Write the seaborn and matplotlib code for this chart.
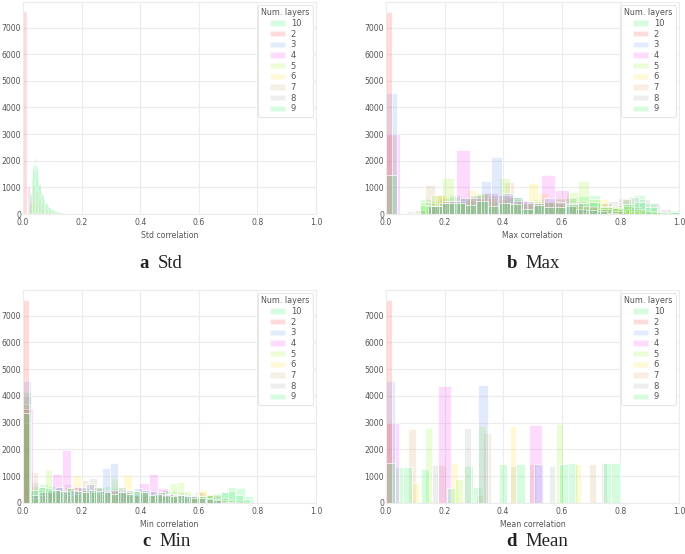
import numpy as np
import pandas as pd
import matplotlib
matplotlib.use("Agg")
import matplotlib.pyplot as plt
from matplotlib.patches import Patch
import seaborn as sns


# Histograms of the correlation between layers, one colour per number of layers.
# Every layer keeps its own bin width; counts are listed bin by bin starting at 0.

layers = ["10", "2", "3", "4", "5", "6", "7", "8", "9"]
colours = ["#00ee44", "#ff1f1f", "#4f86ee", "#ee1fee", "#88ee00",
           "#ffdc00", "#cc9555", "#9a9a9a", "#00ee44"]

# Std correlation
std_width = [0.005, 0.015, 0.004, 0.008, 0.005, 0.004, 0.005, 0.005, 0.005]
std_counts = [
    [1500, 0, 0, 0, 250, 700, 1250, 1650, 1750, 1600, 1350, 1100, 880, 700, 560, 450, 360, 290,
     230, 185, 150, 120, 95, 75, 60, 48, 38, 30, 24, 18, 14, 10, 7, 5, 3],
    [7600],
    [4650],
    [0, 0, 1000, 400],
    [0, 0, 0, 0, 150, 300, 420, 460, 430, 360, 290, 230, 180, 140, 110, 90, 70, 55,
     45, 35, 28, 22, 17, 13, 10, 8, 6, 4, 3, 2, 1],
    [3000],
    [0, 0, 0, 0, 250, 600, 900, 1050, 1000, 880, 720, 580, 460, 370, 300, 240, 190, 150,
     120, 95, 75, 60, 48, 38, 30, 24, 18, 14, 10, 7, 5, 3, 2],
    [0, 0, 0, 0, 100, 250, 400, 480, 500, 450, 380, 310, 250, 200, 160, 130, 100, 80,
     64, 50, 40, 32, 25, 19, 14, 10, 7, 5, 3, 2],
    [0, 0, 0, 0, 300, 800, 1400, 1800, 2100, 1800, 1400, 1080, 840, 660, 520, 410, 330, 265,
     210, 170, 135, 108, 86, 68, 54, 43, 34, 27, 21, 16, 12, 9, 6, 4, 2],
]

# Max correlation
max_width = [0.0385, 0.02, 0.036, 0.048, 0.0385, 0.0345, 0.0335, 0.036, 0.0385]
max_counts = [
    [1480, 0, 30, 350, 300, 420, 400, 350, 480, 300, 420, 380, 200, 350, 280, 250, 380, 420,
     450, 250, 230, 380, 450, 280, 60, 90],
    [7600],
    [4550, 0, 0, 0, 300, 400, 500, 600, 700, 1240, 2150, 800, 650, 500, 400, 600, 450, 300,
     200, 150, 100, 50],
    [3000, 0, 0, 300, 500, 2400, 600, 800, 700, 500, 400, 1480, 920, 400, 300, 200, 100],
    [0, 0, 0, 450, 700, 1335, 500, 600, 800, 700, 1335, 650, 400, 500, 450, 600, 830, 1235,
     550, 300, 250, 300, 200, 100],
    [2950, 0, 0, 0, 300, 700, 400, 500, 900, 750, 600, 550, 400, 500, 1170, 800, 500, 400,
     350, 300, 250, 550, 300, 200, 100],
    [0, 0, 0, 150, 1085, 700, 500, 400, 600, 750, 800, 500, 1210, 500, 400, 500, 450, 400,
     350, 300, 250, 250, 400, 350, 550, 250, 150, 80, 30],
    [0, 0, 100, 150, 400, 600, 700, 650, 500, 600, 700, 650, 550, 500, 450, 500, 550, 600,
     500, 450, 400, 500, 600, 650, 550, 400, 200, 100],
    [0, 20, 50, 560, 480, 650, 620, 480, 750, 450, 600, 620, 300, 570, 430, 380, 600, 680,
     730, 380, 350, 600, 720, 420, 100, 150],
]

# Min correlation
min_width = [0.025, 0.0216, 0.027, 0.033, 0.025, 0.0285, 0.025, 0.028, 0.028]
min_counts = [
    [3375, 500, 600, 550, 500, 450, 550, 450, 400, 500, 450, 400, 350, 400, 350, 450, 400, 300,
     350, 300, 250, 300, 250, 200, 250, 300, 350, 400, 450, 300, 150],
    [7600],
    [4575, 300, 400, 500, 600, 450, 500, 600, 700, 600, 1300, 1490, 600, 500, 550, 500, 450,
     400, 350, 300, 300, 250, 200, 150, 100, 50],
    [3500, 300, 400, 1090, 1990, 600, 500, 400, 450, 500, 400, 350, 750, 1090, 560, 350, 300,
     250, 200, 150, 100, 50],
    [3710, 300, 400, 1220, 500, 400, 300, 350, 400, 500, 600, 500, 950, 500, 400, 300, 400,
     350, 450, 500, 750, 800, 450, 300, 250, 200, 150, 100, 50],
    [3500, 200, 300, 400, 500, 600, 1050, 500, 400, 350, 450, 600, 1040, 500, 400, 300, 350,
     250, 300, 200, 300, 490, 350, 200, 100, 50],
    [3000, 1150, 500, 400, 450, 500, 550, 600, 850, 700, 550, 500, 450, 400, 350, 300, 350,
     400, 300, 250, 350, 300, 250, 200, 400, 350, 300, 200, 100],
    [4010, 800, 600, 500, 600, 700, 650, 550, 950, 600, 500, 450, 400, 350, 400, 350, 300,
     250, 300, 400, 350, 400, 300, 250, 200, 150, 100],
    [4150, 650, 700, 650, 550, 600, 500, 550, 450, 500, 650, 550, 450, 400, 500, 450, 350, 500,
     450, 300, 350, 250, 300, 350, 400, 580, 550, 250],
]

# Mean correlation
mean_width = [0.0296, 0.02, 0.0315, 0.0445, 0.0263, 0.0222, 0.0256, 0.0222, 0.0296]
mean_counts = [
    [1480, 0, 1360, 0, 1280, 0, 0, 570, 0, 0, 0, 0, 0, 1450, 0, 0, 0, 0, 0, 0, 1450, 0, 0, 0,
     0, 1480],
    [7600],
    [4550, 0, 0, 0, 0, 0, 0, 0, 0, 0, 4425, 0, 0, 0, 0, 0, 1440],
    [3000, 0, 0, 0, 4360, 0, 0, 0, 0, 0, 0, 2900],
    [0, 0, 0, 0, 0, 2800, 0, 0, 0, 900, 0, 0, 2880, 0, 0, 0, 0, 0, 0, 0, 0, 0, 2940],
    [2970, 0, 0, 0, 760, 0, 0, 0, 0, 0, 1490, 0, 0, 0, 0, 0, 0, 0, 0, 2880, 0, 0, 0, 0, 0, 0,
     0, 0, 0, 1450],
    [0, 0, 0, 2770, 0, 0, 0, 1410, 0, 0, 0, 0, 300, 2600, 0, 0, 0, 0, 0, 1440, 0, 0, 0, 0, 0,
     0, 0, 1450],
    [0, 0, 0, 0, 0, 0, 0, 1410, 0, 0, 0, 0, 2800, 0, 0, 0, 0, 0, 0, 1370, 0, 0, 0, 0, 0, 1400,
     0, 0, 0, 0, 0, 0, 0, 1480],
    [0, 1360, 0, 0, 0, 0, 0, 0, 0, 1400, 600, 0, 0, 0, 0, 1450, 0, 0, 0, 0, 0, 1480, 0, 0, 0,
     0, 1480],
]

x_ticks = [0.0, 0.2, 0.4, 0.6, 0.8, 1.0]
y_ticks = [0, 1000, 2000, 3000, 4000, 5000, 6000, 7000]
captions = [("a", "Std"), ("b", "Max"), ("c", "Min"), ("d", "Mean")]
bar_alpha = 0.16

sns.set_theme(style="whitegrid", rc={
    "axes.edgecolor": "#ececec",
    "grid.color": "#ececec",
    "axes.linewidth": 0.8,
    "grid.linewidth": 0.8,
    "xtick.color": "#555555",
    "ytick.color": "#555555",
    "axes.labelcolor": "#555555",
    "text.color": "#555555",
})
plt.rcParams["font.family"] = ["DejaVu Sans"]


def draw_panel(ax, widths, counts, xlabel, edge_lw=0.5):
    # seaborn draws the first hue level on top, so go through the layers backwards
    for layer, colour, width, heights in reversed(list(zip(layers, colours, widths, counts))):
        df = pd.DataFrame({"corr": (np.arange(len(heights)) + 0.5) * width,
                           "count": heights})
        sns.histplot(data=df, x="corr", weights="count", binwidth=width,
                     binrange=(0, width * len(heights)), color=colour, alpha=bar_alpha,
                     edgecolor="white", linewidth=edge_lw, ax=ax)
    ax.set_xlim(0, 1)
    ax.set_ylim(0, 7960)
    ax.set_xticks(x_ticks)
    ax.set_yticks(y_ticks)
    ax.tick_params(axis="both", length=0, labelsize=5.6)
    ax.tick_params(axis="x", pad=3)
    ax.tick_params(axis="y", pad=1.5)
    ax.set_xlabel(xlabel, fontsize=5.6, labelpad=3)
    ax.set_ylabel("")
    handles = [Patch(facecolor=c, edgecolor="white", alpha=bar_alpha, label=l)
               for l, c in zip(layers, colours)]
    leg = ax.legend(handles=handles, title="Num. layers", loc="upper right", fontsize=6,
                    title_fontsize=5.8, labelspacing=0.2, handlelength=1.8, handleheight=0.6,
                    handletextpad=0.7, borderaxespad=0.35, borderpad=0.4, fancybox=True,
                    framealpha=1)
    leg.get_frame().set_edgecolor("#e6e6e6")
    leg.get_frame().set_linewidth(0.8)


fig = plt.figure(figsize=(6.85, 5.54), dpi=100)
ax_std = fig.add_axes([0.0336, 0.6137, 0.4277, 0.3827])
ax_max = fig.add_axes([0.5635, 0.6137, 0.4277, 0.3827])
ax_min = fig.add_axes([0.0336, 0.0921, 0.4277, 0.3845])
ax_mean = fig.add_axes([0.5635, 0.0921, 0.4277, 0.3845])

draw_panel(ax_std, std_width, std_counts, "Std correlation", edge_lw=0.2)
draw_panel(ax_max, max_width, max_counts, "Max correlation")
draw_panel(ax_min, min_width, min_counts, "Min correlation")
draw_panel(ax_mean, mean_width, mean_counts, "Mean correlation")

# panel captions under each plot
caption_pos = [(0.2175, 0.5165), (0.7547, 0.5165), (0.2204, 0.0150), (0.7547, 0.0150)]
for (letter, word), (cx, cy) in zip(captions, caption_pos):
    fig.text(cx, cy, letter, ha="right", va="baseline", fontsize=13.5, fontweight="bold",
             family="Liberation Serif", color="#222222")
    fig.text(cx + 0.013, cy, word, ha="left", va="baseline", fontsize=13.5,
             family="Liberation Serif", color="#222222")

fig.savefig("out.png", dpi=100)
